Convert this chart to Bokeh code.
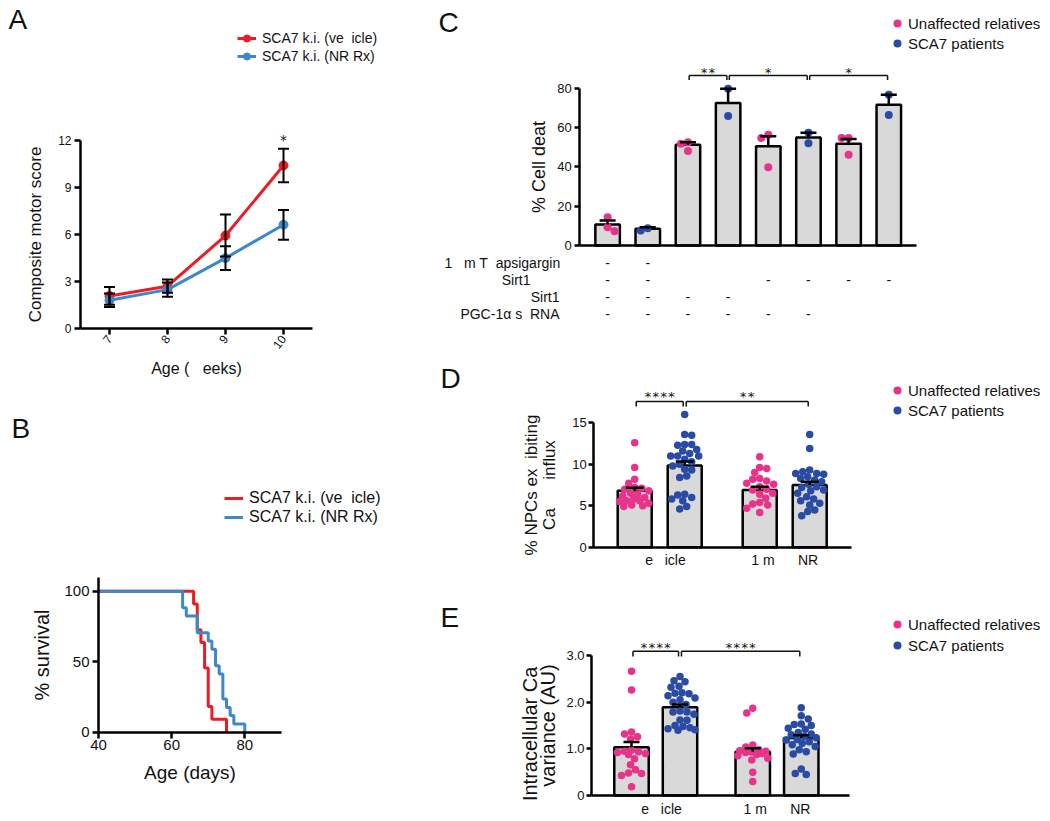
import math
from bokeh.plotting import figure
from bokeh.layouts import row, column
from bokeh.models import (Range1d, FixedTicker, Legend, LegendItem, Label,
                          Whisker, TeeHead, ColumnDataSource)
from bokeh.embed import file_html
from bokeh.resources import INLINE
from bokeh.core.properties import value

NB = "\u00a0"

# ---------------- data ----------------
# Panel A: composite motor score
a_weeks = [7, 8, 9, 10]
a_vehicle_mean = [2.08, 2.70, 5.93, 10.40]
a_vehicle_sem = [0.57, 0.42, 1.34, 1.07]
a_nr_mean = [1.80, 2.48, 4.49, 6.62]
a_nr_sem = [0.43, 0.46, 0.76, 0.95]
a_labels = ["SCA7 k.i. (ve" + NB * 2 + "icle)", "SCA7 k.i. (NR Rx)"]
a_yticks = [0, 3, 6, 9, 12]

# Panel B: survival (Kaplan-Meier steps)
b_vehicle_days = [40, 66, 67, 68, 69, 70, 71, 75]
b_vehicle_surv = [100, 90.9, 72.7, 63.6, 45.5, 18.2, 9.1, 0]
b_nr_days = [40, 63, 64, 67, 70, 71, 72, 73, 74, 75, 76, 77, 80]
b_nr_surv = [100, 88.2, 82.4, 70.6, 64.7, 58.8, 47.1, 41.2, 23.5, 17.6, 11.8, 5.9, 0]
b_xticks = [40, 60, 80]
b_yticks = [0, 50, 100]

# Panel C: % cell death
c_groups = ["U", "P", "U", "P", "U", "P", "U", "P"]
c_means = [10.7, 8.5, 51.2, 72.5, 50.5, 54.9, 51.7, 71.5]
c_sem = [2.0, 0.8, 1.3, 7.2, 5.1, 2.4, 2.5, 5.1]
c_points = [[14.4, 9.3, 7.3], [7.6, 8.8], [48.0, 52.5, 51.7], [79.7, 65.8],
            [39.8, 56.3, 54.6], [57.3, 52.0], [46.1, 54.6, 54.6], [76.6, 66.4]]
c_brackets = [(3, 4, "**"), (4, 6, "*"), (6, 8, "*")]
c_yticks = [0, 20, 40, 60, 80]
table_rows = ["1" + NB * 3 + "m T" + NB * 2 + "apsigargin", "Sirt1", "Sirt1",
              "PGC-1\u03b1 s" + NB * 2 + "RNA"]
table_marks = [["-", "-", "", "", "", "", "", ""],
               ["-", "-", "", "", "-", "-", "-", "-"],
               ["-", "-", "-", "-", "", "", "", ""],
               ["-", "-", "-", "-", "-", "-", "", ""]]

# Panel D: % NPCs exhibiting Ca influx
d_groups = ["U", "P", "U", "P"]
d_means = [6.82, 9.85, 6.90, 7.50]
d_sem = [0.35, 0.48, 0.38, 0.40]
d_points = [
    [12.6, 9.6, 8.2, 7.7, 7.2, 7.1, 7.0, 6.8, 6.5, 6.4, 6.2, 6.0, 5.8, 5.6, 5.6, 5.5, 5.3, 5.1, 5.0, 4.9],
    [16.0, 13.6, 13.5, 12.4, 12.4, 12.3, 11.8, 11.6, 11.3, 11.0, 11.0, 11.0, 10.6, 10.3, 10.0, 9.8,
     9.4, 9.3, 8.6, 8.4, 6.4, 6.3, 6.0, 5.8, 5.6, 4.9, 4.6],
    [10.9, 9.6, 9.5, 9.0, 8.3, 8.2, 8.0, 7.7, 7.6, 7.3, 7.0, 6.9, 6.5, 6.4, 5.9, 5.4, 5.2, 5.1, 4.7, 4.2],
    [13.6, 11.9, 9.3, 9.1, 8.9, 8.9, 8.8, 8.5, 8.3, 8.1, 7.9, 7.6, 7.3, 7.2, 6.9, 6.8, 6.5, 6.1,
     5.8, 5.6, 5.3, 5.1, 4.5, 4.3, 3.8]]
d_brackets = [(1, 2, "****"), (2, 4, "**")]
d_yticks = [0, 5, 10, 15]
de_xlabels = [NB * 3 + "e" + NB * 3 + "icle", "1" + NB + "m" + NB * 6 + "NR"]

# Panel E: intracellular Ca variance
e_groups = ["U", "P", "U", "P"]
e_means = [1.035, 1.89, 0.94, 1.23]
e_sem = [0.11, 0.06, 0.07, 0.06]
e_points = [
    [2.66, 2.26, 1.36, 1.32, 1.26, 1.21, 0.97, 0.95, 0.94, 0.92, 0.90, 0.88, 0.79, 0.66, 0.55,
     0.48, 0.47, 0.43, 0.19],
    [2.55, 2.46, 2.44, 2.34, 2.32, 2.20, 2.19, 2.18, 2.14, 2.09, 2.05, 2.00, 1.95, 1.81, 1.79,
     1.79, 1.74, 1.62, 1.61, 1.50, 1.48, 1.45, 1.43, 1.41, 1.40],
    [1.87, 1.77, 1.08, 1.04, 0.98, 0.96, 0.95, 0.93, 0.92, 0.90, 0.88, 0.85, 0.80, 0.76, 0.50, 0.30],
    [1.88, 1.71, 1.64, 1.53, 1.52, 1.50, 1.44, 1.42, 1.35, 1.32, 1.30, 1.27, 1.24, 1.20, 1.19,
     1.15, 1.12, 1.09, 1.05, 0.98, 0.94, 0.89, 0.57, 0.47, 0.45]]
e_brackets = [(1, 2, "****"), (2, 4, "****")]
e_yticks = [0, 1, 2, 3]
e_ytick_labels = ["0", "1.0", "2.0", "3.0"]

legend_labels = ["Unaffected relatives", "SCA7 patients"]

# ---------------- style ----------------
FONT = "Liberation Sans"
MONO = "DejaVu Sans Mono"
RED = "#EC1C24"
LBLUE = "#3C88CA"
PINK = "#E8338A"
NAVY = "#2A4BA4"
GRAY = "#D9D9D9"
INK = "#111111"


def xrange_px(left, right, ref_px, ref_val, ppu):
    return Range1d(ref_val + (left - ref_px) / ppu, ref_val + (right - ref_px) / ppu)


def yrange_px(top, bottom, ref_px, ref_val, ppu):
    return Range1d(ref_val + (ref_px - bottom) / ppu, ref_val + (ref_px - top) / ppu)


def base_fig(w, h, xr, yr):
    p = figure(width=w, height=h, x_range=xr, y_range=yr,
               output_backend="svg", toolbar_location=None,
               min_border=0, min_border_left=0, min_border_right=0,
               min_border_top=0, min_border_bottom=0)
    p.outline_line_color = None
    p.xgrid.visible = False
    p.ygrid.visible = False
    p.background_fill_color = "white"
    p.border_fill_color = "white"
    return p


def style_axis(ax, tick_size, label_size, tick_out=5, label_standoff=3, axis_standoff=10,
               lw=2.5, line_height=1.0):
    ax.axis_line_width = lw
    ax.axis_line_color = "black"
    ax.major_tick_line_width = lw
    ax.major_tick_line_color = "black"
    ax.major_tick_out = tick_out
    ax.major_tick_in = 0
    ax.minor_tick_line_color = None
    ax.major_label_text_font = FONT
    ax.major_label_text_font_size = f"{tick_size}px"
    ax.major_label_text_color = INK
    ax.major_label_standoff = label_standoff
    ax.axis_label_text_font = FONT
    ax.axis_label_text_font_size = f"{label_size}px"
    ax.axis_label_text_font_style = "normal"
    ax.axis_label_text_color = INK
    ax.axis_label_standoff = axis_standoff
    ax.axis_label_text_line_height = line_height


def fixed_axes(p, y_axis_at, x_bounds, y_bounds):
    p.yaxis.fixed_location = y_axis_at
    p.yaxis.bounds = y_bounds
    p.xaxis.fixed_location = 0
    p.xaxis.bounds = x_bounds


def panel_letter(p, txt, x, y, size=28):
    p.add_layout(Label(x=x, y=y, x_units="screen", y_units="screen", text=txt,
                       text_font=FONT, text_font_size=f"{size}px", text_color=INK,
                       text_align="left", text_baseline="alphabetic"))


def add_legend(p, items, x, y, font_size, glyph_w, glyph_h, spacing, standoff):
    # (x, y): bottom-left corner of the legend box, in pixels from the frame's bottom-left
    leg = Legend(items=items, location=(x, y), orientation="vertical",
                 padding=0, margin=0, spacing=spacing,
                 glyph_width=glyph_w, glyph_height=glyph_h, label_height=glyph_h,
                 label_standoff=standoff, label_text_font=FONT,
                 label_text_font_size=f"{font_size}px", label_text_color=INK,
                 border_line_color=None, background_fill_alpha=0)
    p.add_layout(leg)


def swarm_offsets(vals, px_per_x, px_per_y, diam, half_width):
    order = sorted(range(len(vals)), key=lambda i: -vals[i])
    cands = [0.0]
    for k in range(1, int(half_width) + 1):
        cands += [float(k), -float(k)]
    placed = []
    offs = [0.0] * len(vals)
    for n, i in enumerate(order):
        sy = vals[i] * px_per_y
        cl = cands if n % 2 == 0 else [-c for c in cands]
        chosen, best_c, best_d = None, 0.0, -1.0
        for c in cl:
            d = min((math.hypot(c - qx, sy - qy) for qx, qy in placed), default=1e9)
            if d >= diam:
                chosen = c
                break
            if d > best_d:
                best_c, best_d = c, d
        if chosen is None:
            chosen = best_c
        placed.append((chosen, sy))
        offs[i] = chosen / px_per_x
    return offs


def bars_dots(p, xs, means, sems, groups, points, bar_w, px_x, px_y, dot_size, cap, half_w):
    p.vbar(x=xs, top=means, width=bar_w, bottom=0, fill_color=GRAY,
           line_color="black", line_width=2.5)
    ux, uy, qx, qy = [], [], [], []
    for x, g, pts in zip(xs, groups, points):
        offs = swarm_offsets(pts, px_x, px_y, dot_size * 0.92, half_w)
        for v, o in zip(pts, offs):
            if g == "U":
                ux.append(x + o); uy.append(v)
            else:
                qx.append(x + o); qy.append(v)
    ru = p.scatter(ux, uy, size=dot_size, fill_color=PINK, line_color=None)
    rp = p.scatter(qx, qy, size=dot_size, fill_color=NAVY, line_color=None)
    src = ColumnDataSource(dict(x=xs, lo=means, hi=[m + s for m, s in zip(means, sems)]))
    p.add_layout(Whisker(base="x", lower="lo", upper="hi", source=src, dimension="height",
                         line_width=2.5, line_color="black", level="overlay",
                         upper_head=TeeHead(size=cap, line_width=2.5, line_color="black"),
                         lower_head=None))
    return ru, rp


def brackets(p, br, xs, top, tip, star_y, inset=0.03):
    x0, y0, x1, y1 = [], [], [], []
    sx, sy, st = [], [], []
    for a, b, txt in br:
        xa = xs[a - 1] + inset
        xb = xs[b - 1] - inset
        for (u0, v0, u1, v1) in [(xa, tip, xa, top), (xa, top, xb, top), (xb, top, xb, tip)]:
            x0.append(u0); y0.append(v0); x1.append(u1); y1.append(v1)
        sx.append((xa + xb) / 2); sy.append(star_y); st.append(txt)
    p.segment(x0=x0, y0=y0, x1=x1, y1=y1, line_width=1.5, line_color=INK)
    p.text(x=sx, y=sy, text=st, text_align="center", text_baseline="middle",
           text_font=value(MONO), text_font_size="13px", text_color=INK)


# ---------------- Panel A  (box x 0..400, y 0..410) ----------------
pA = base_fig(400, 410, xrange_px(0, 400, 109, 7, 58.0), yrange_px(0, 410, 328, 0, 15.67))
rv_l = pA.line(a_weeks, a_vehicle_mean, line_color=RED, line_width=3)
rv_d = pA.scatter(a_weeks, a_vehicle_mean, size=9, fill_color=RED, line_color=RED)
rn_l = pA.line(a_weeks, a_nr_mean, line_color=LBLUE, line_width=3)
rn_d = pA.scatter(a_weeks, a_nr_mean, size=9, fill_color=LBLUE, line_color=LBLUE)
for mean, sem in [(a_vehicle_mean, a_vehicle_sem), (a_nr_mean, a_nr_sem)]:
    src = ColumnDataSource(dict(x=a_weeks, lo=[m - s for m, s in zip(mean, sem)],
                                hi=[m + s for m, s in zip(mean, sem)]))
    pA.add_layout(Whisker(base="x", lower="lo", upper="hi", source=src, dimension="height",
                          line_width=2, line_color="black", level="overlay",
                          upper_head=TeeHead(size=11, line_width=2, line_color="black"),
                          lower_head=TeeHead(size=11, line_width=2, line_color="black")))
pA.text(x=[a_weeks[-1]], y=[12.06], text=["*"], text_font=value(MONO), text_font_size="14px",
        text_color=INK, text_align="center", text_baseline="middle")
fixed_axes(pA, 6.5, (6.5, 10.5), (0, 12))
pA.xaxis.ticker = FixedTicker(ticks=a_weeks)
pA.xaxis.major_label_orientation = 0.9
pA.yaxis.ticker = FixedTicker(ticks=a_yticks)
pA.xaxis.axis_label = "Age (" + NB * 3 + "eeks)"
pA.yaxis.axis_label = "Composite motor score"
style_axis(pA.xaxis, 12, 16, tick_out=6, label_standoff=2, axis_standoff=4)
style_axis(pA.yaxis, 12, 17, tick_out=6, label_standoff=3, axis_standoff=10)
add_legend(pA, [LegendItem(label=a_labels[0], renderers=[rv_l, rv_d]),
                LegendItem(label=a_labels[1], renderers=[rn_l, rn_d])],
           237, 345, 14, 19, 18, 0, 6)
panel_letter(pA, "A", 8, 391)

# ---------------- Panel B  (box x 0..400, y 410..816) ----------------
pB = base_fig(400, 406, xrange_px(0, 400, 98, 40, 3.6575), yrange_px(410, 816, 731.7, 0, 1.41))
rbv = pB.step(b_vehicle_days, b_vehicle_surv, mode="after", line_color=RED, line_width=3)
rbn = pB.step(b_nr_days, b_nr_surv, mode="after", line_color=LBLUE, line_width=3)
fixed_axes(pB, 40, (40, 90), (0, 110))
pB.xaxis.ticker = FixedTicker(ticks=b_xticks)
pB.yaxis.ticker = FixedTicker(ticks=b_yticks)
pB.xaxis.axis_label = "Age (days)"
pB.yaxis.axis_label = "% survival"
style_axis(pB.xaxis, 15, 19, tick_out=6, label_standoff=2, axis_standoff=8)
style_axis(pB.yaxis, 15, 20, tick_out=6, label_standoff=3, axis_standoff=8)
add_legend(pB, [LegendItem(label=a_labels[0], renderers=[rbv]),
                LegendItem(label=a_labels[1], renderers=[rbn])],
           224, 290, 16, 19, 18, 1, 6)
panel_letter(pB, "B", 11, 388)

# ---------------- Panel C + table  (box x 400..1042, y 0..330) ----------------
c_x = [i + 1 for i in range(len(c_means))]
C_PPX, C_PPY = 40.17, 1.967
pC = base_fig(642, 330, xrange_px(400, 1042, 607.1, 1, C_PPX), yrange_px(0, 330, 245, 0, C_PPY))
cu, cp = bars_dots(pC, c_x, c_means, c_sem, c_groups, c_points, 0.61, C_PPX, C_PPY, 8, 16, 7)
brackets(pC, c_brackets, c_x, 86.4, 84.2, 87.8)
c_axis_x = 1 + (579.2 - 607.1) / C_PPX
fixed_axes(pC, c_axis_x, (c_axis_x, 1 + (915.8 - 607.1) / C_PPX), (0, 80))
pC.xaxis.ticker = FixedTicker(ticks=[])
pC.yaxis.ticker = FixedTicker(ticks=c_yticks)
pC.yaxis.axis_label = "% Cell deat"
style_axis(pC.xaxis, 1, 1, tick_out=0, label_standoff=0, axis_standoff=0)
style_axis(pC.yaxis, 13, 18, tick_out=5, label_standoff=3, axis_standoff=5)
# treatment table below the bars
row_y = [-(262 - 245 + 17.1 * r) / C_PPY for r in range(len(table_rows))]
tx, ty, tt = [], [], []
for r, marks in enumerate(table_marks):
    for i, m in enumerate(marks):
        if m:
            tx.append(c_x[i]); ty.append(row_y[r]); tt.append(m)
pC.text(x=tx, y=ty, text=tt, text_align="center", text_baseline="middle",
        text_font=value(FONT), text_font_size="14px", text_color=INK)
row_right_px = [560, 530, 559, 559]
pC.text(x=[1 + (px - 607.1) / C_PPX for px in row_right_px], y=row_y, text=table_rows,
        text_align="right", text_baseline="middle",
        text_font=value(FONT), text_font_size="14px", text_color=INK)
add_legend(pC, [LegendItem(label=legend_labels[0], renderers=[cu]),
                LegendItem(label=legend_labels[1], renderers=[cp])],
           486, 277, 15, 22, 20, 0, 0)
panel_letter(pC, "C", 38, 308)

# ---------------- Panel D  (box x 400..1042, y 330..572) ----------------
de_x = [1, 2, 3.5, 4.5]
D_PPX, D_PPY = 50.0, 8.29
pD = base_fig(642, 242, xrange_px(400, 1042, 634.2, 1, D_PPX), yrange_px(330, 572, 546.7, 0, D_PPY))
du, dp = bars_dots(pD, de_x, d_means, d_sem, d_groups, d_points, 0.68, D_PPX, D_PPY, 7.5, 18, 15)
brackets(pD, d_brackets, de_x, 17.57, 16.97, 18.2)
d_axis_x = 1 + (593.3 - 634.2) / D_PPX
fixed_axes(pD, d_axis_x, (d_axis_x, 1 + (850.8 - 634.2) / D_PPX), (0, 15))
pD.xaxis.ticker = FixedTicker(ticks=[1.5, 4])
pD.xaxis.major_label_overrides = {1.5: de_xlabels[0], 4: de_xlabels[1]}
pD.yaxis.ticker = FixedTicker(ticks=d_yticks)
pD.yaxis.axis_label = "% NPCs ex" + NB * 2 + "ibiting\nCa" + NB * 6 + "influx"
style_axis(pD.xaxis, 14, 14, tick_out=0, label_standoff=5, axis_standoff=0)
style_axis(pD.yaxis, 13, 17, tick_out=5, label_standoff=2, axis_standoff=10, line_height=0.95)
add_legend(pD, [LegendItem(label=legend_labels[0], renderers=[du]),
                LegendItem(label=legend_labels[1], renderers=[dp])],
           486, 152, 15, 22, 20, 0, 0)
panel_letter(pD, "D", 40, 194)

# ---------------- Panel E  (box x 400..1042, y 572..816) ----------------
E_PPX, E_PPY = 48.5, 46.67
pE = base_fig(642, 244, xrange_px(400, 1042, 631, 1, E_PPX), yrange_px(572, 816, 795, 0, E_PPY))
eu, ep = bars_dots(pE, de_x, e_means, e_sem, e_groups, e_points, 0.71, E_PPX, E_PPY, 7.5, 16, 15)
brackets(pE, e_brackets, de_x, 3.09, 2.98, 3.18)
e_axis_x = 1 + (591 - 631) / E_PPX
fixed_axes(pE, e_axis_x, (e_axis_x, 1 + (849.2 - 631) / E_PPX), (0, 3))
pE.xaxis.ticker = FixedTicker(ticks=[1.5, 4])
pE.xaxis.major_label_overrides = {1.5: de_xlabels[0], 4: de_xlabels[1]}
pE.yaxis.ticker = FixedTicker(ticks=e_yticks)
pE.yaxis.major_label_overrides = {t: s for t, s in zip(e_yticks, e_ytick_labels)}
pE.yaxis.axis_label = "Intracellular Ca" + NB * 3 + "\nvariance (AU)"
style_axis(pE.xaxis, 14, 14, tick_out=0, label_standoff=5, axis_standoff=0)
style_axis(pE.yaxis, 13, 20, tick_out=5, label_standoff=2, axis_standoff=4, line_height=0.85)
add_legend(pE, [LegendItem(label=legend_labels[0], renderers=[eu]),
                LegendItem(label=legend_labels[1], renderers=[ep])],
           486, 161, 15, 22, 20, 1, 0)
panel_letter(pE, "E", 40, 199)

layout = row(column(pA, pB), column(pC, pD, pE))
open("out.html", "w").write(file_html(layout, INLINE))
